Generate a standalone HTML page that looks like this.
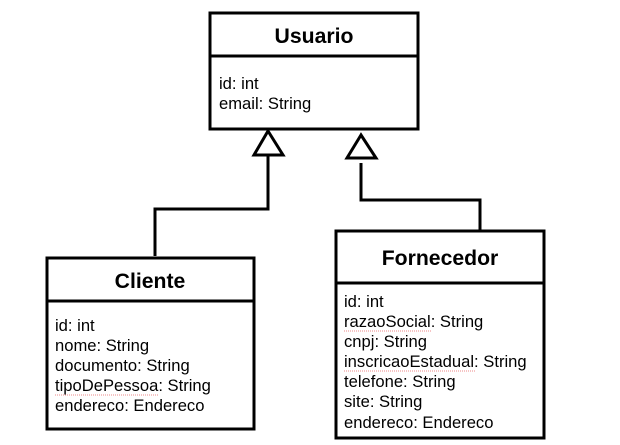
<!DOCTYPE html>
<html><head><meta charset="utf-8"><style>
html,body{margin:0;padding:0;background:#fff;width:620px;height:445px;overflow:hidden}
text{font-family:"Liberation Sans",sans-serif;fill:#000}
.t{font-size:21.2px;font-weight:bold;text-anchor:middle}
.a{font-size:16.6px}
</style></head><body>
<svg width="620" height="445" viewBox="0 0 620 445" xmlns="http://www.w3.org/2000/svg">
<g fill="none" stroke="#000" stroke-width="3">
<rect x="210" y="13" width="208" height="116"/>
<line x1="210" y1="56" x2="418" y2="56"/>
<rect x="47" y="258" width="207" height="171"/>
<line x1="47" y1="301" x2="254" y2="301"/>
<rect x="336" y="231" width="208" height="207"/>
<line x1="336" y1="283" x2="544" y2="283"/>
<polyline points="268,155 268,209 155,209 155,256"/>
<polyline points="361,163 361,200 480,200 480,230"/>
<polygon points="268,131 254,155 283,155" fill="#fff"/>
<polygon points="361,135 347,158 376,158" fill="#fff"/>
</g>
<text class="t" x="314" y="43">Usuario</text>
<text class="a" x="219" y="89">id: int</text>
<text class="a" x="219" y="109">email: String</text>
<text class="t" x="150" y="288">Cliente</text>
<text class="a" x="55" y="331">id: int</text>
<text class="a" x="55" y="351">nome: String</text>
<text class="a" x="55" y="371">documento: String</text>
<text class="a" x="55" y="391">tipoDePessoa: String</text>
<text class="a" x="55" y="411">endereco: Endereco</text>
<text class="t" x="440" y="265">Fornecedor</text>
<text class="a" x="344" y="307">id: int</text>
<text class="a" x="344" y="327">razaoSocial: String</text>
<text class="a" x="344" y="347">cnpj: String</text>
<text class="a" x="344" y="367">inscricaoEstadual: String</text>
<text class="a" x="344" y="387">telefone: String</text>
<text class="a" x="344" y="407">site: String</text>
<text class="a" x="344" y="428">endereco: Endereco</text>
<g stroke="#e88" stroke-width="1" stroke-dasharray="1,1">
<line x1="55" y1="395" x2="159" y2="395"/>
<line x1="344" y1="331" x2="431" y2="331"/>
<line x1="344" y1="371" x2="475" y2="371"/>
</g>
</svg>
</body></html>
